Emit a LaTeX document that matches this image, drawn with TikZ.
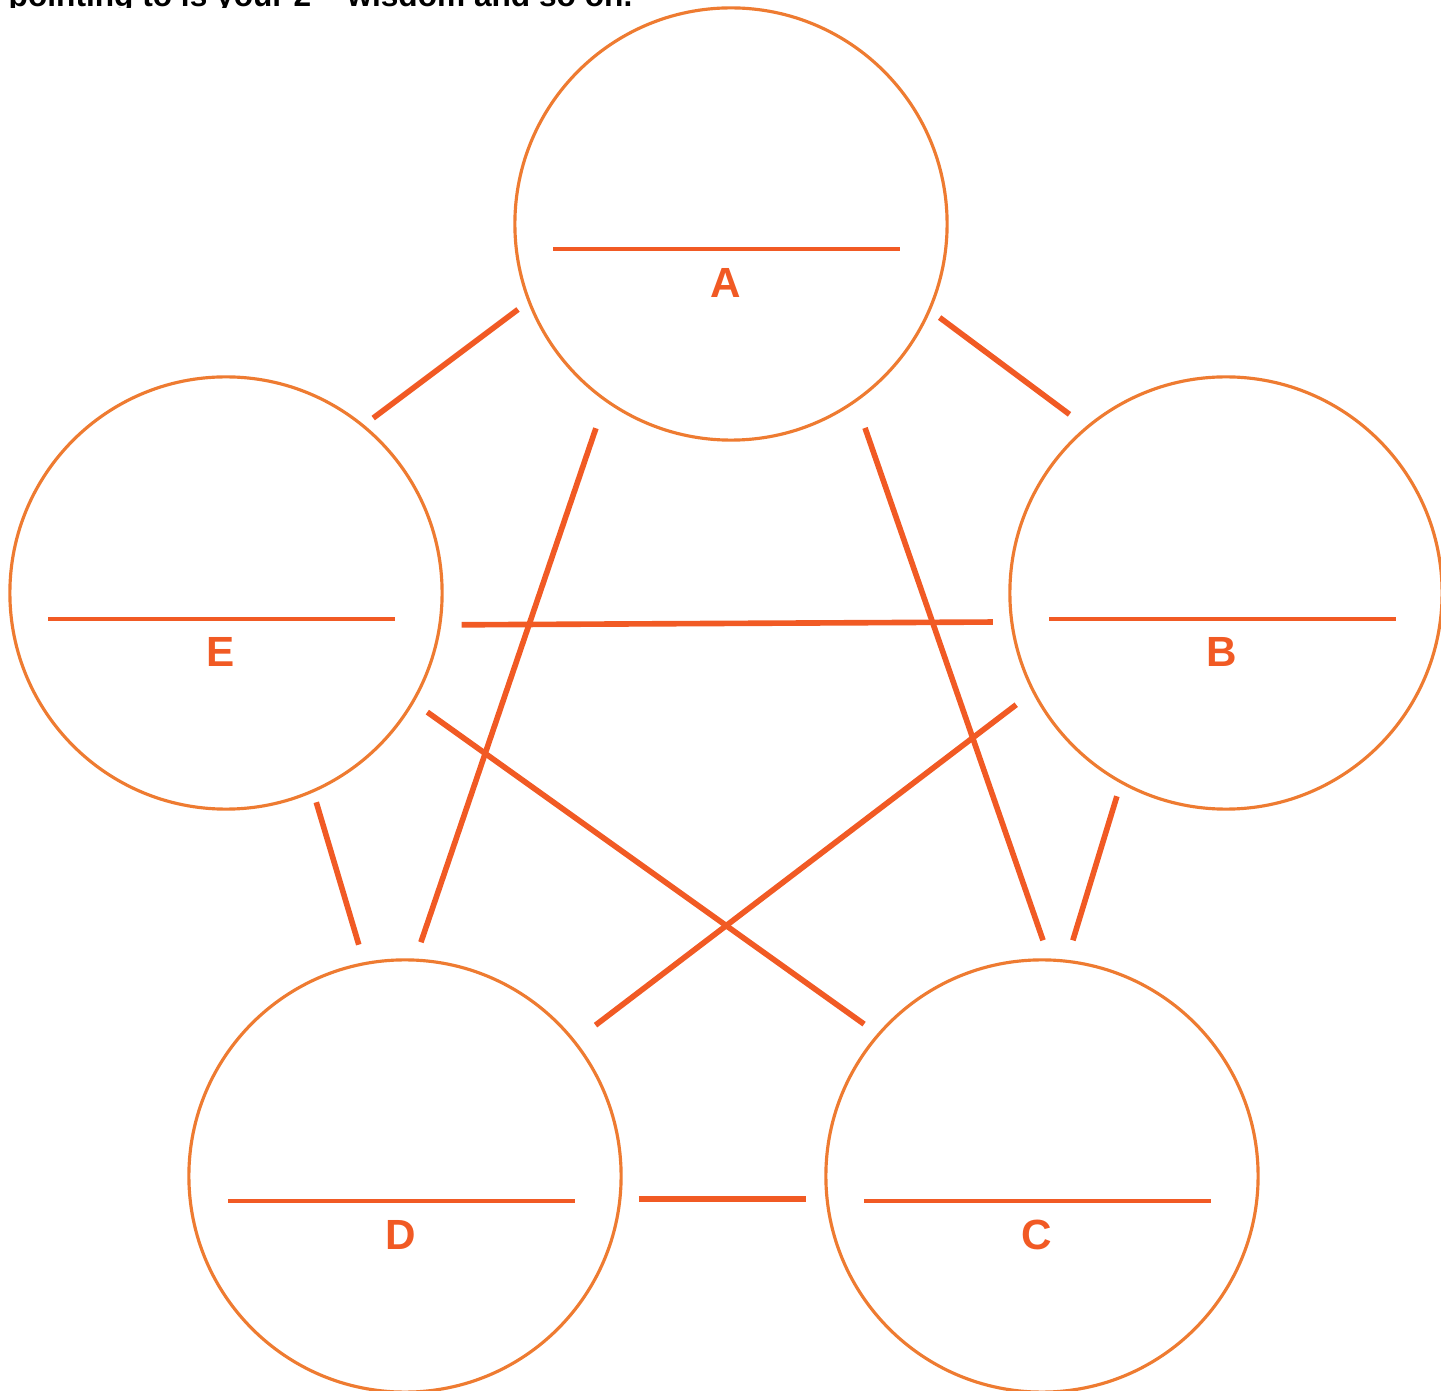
\documentclass[tikz,border=0pt]{standalone}
\usepackage{fontspec}
\setmainfont{Liberation Sans}
\usetikzlibrary{positioning,calc}
\definecolor{laranja}{HTML}{EE7B31}
\definecolor{vermelho}{HTML}{F15A24}

\begin{document}
\begin{tikzpicture}[
x=0.01cm, y=-0.01cm,
circulo/.style={
circle,
draw=laranja,
line width=0.9pt,
minimum size=4.32cm,
inner sep=0pt,
outer sep=0pt
},
barra/.style={draw=vermelho, line width=1.2pt},
rotulo/.style={
anchor=base,
text=vermelho,
font=\fontsize{12}{14}\selectfont\bfseries
},
liga/.style={draw=vermelho, line width=1.6pt}
]
\useasboundingbox (0,0) rectangle (1441,1391);

% texto cortado no topo
\begin{scope}
\clip (0,0) rectangle (1441,8);
\node[anchor=base west, inner sep=0pt, font=\fontsize{9}{11}\selectfont\bfseries] (topo) at (8,7)
{pointing to is your 2\textsuperscript{nd} wisdom and so on.};
\end{scope}

\node[circulo] (A) at (731,224) {};
\node[circulo] (B) at (1226,593) {};
\node[circulo] (C) at (1042,1176) {};
\node[circulo] (D) at (405,1176) {};
\node[circulo] (E) at (226,593) {};

\draw[barra] ([shift={(-178,25)}]A.center) -- ++(347,0);
\draw[barra] ([shift={(-177,26)}]B.center) -- ++(347,0);
\draw[barra] ([shift={(-178,25)}]C.center) -- ++(347,0);
\draw[barra] ([shift={(-177,25)}]D.center) -- ++(347,0);
\draw[barra] ([shift={(-178,26)}]E.center) -- ++(347,0);

\node[rotulo] (rA) at ([shift={(-5,74)}]A.center) {A};
\node[rotulo] (rB) at ([shift={(-4,74)}]B.center) {B};
\node[rotulo] (rC) at ([shift={(-5,74)}]C.center) {C};
\node[rotulo] (rD) at ([shift={(-4,74)}]D.center) {D};
\node[rotulo] (rE) at ([shift={(-5,74)}]E.center) {E};

% ligacoes (angulos medidos para baixo, raio 216)
\draw[liga, shorten <=0.13cm, shorten >=0.22cm] ([shift={(23.4:216)}]A.center) -- ([shift={(230:216)}]B.center);
\draw[liga, shorten <=0.14cm, shorten >=0.13cm] ([shift={(159.1:216)}]A.center) -- ([shift={(309.3:216)}]E.center);
\draw[liga, shorten <=0.30cm, shorten >=0.19cm] ([shift={(125.5:216)}]A.center) -- ([shift={(272.6:216)}]D.center);
\draw[liga, shorten <=0.29cm, shorten >=0.21cm] ([shift={(54.8:216)}]A.center) -- ([shift={(272.1:216)}]C.center);
\draw[liga, shorten <=0.22cm, shorten >=0.19cm] ([shift={(8.5:216)}]E.center) -- ([shift={(172.3:216)}]B.center);
\draw[liga, shorten <=0.18cm, shorten >=0.18cm] ([shift={(30.2:216)}]E.center) -- ([shift={(220.9:216)}]C.center);
\draw[liga, shorten <=0.22cm, shorten >=0.27cm] ([shift={(152.9:216)}]B.center) -- ([shift={(321.5:216)}]D.center);
\draw[liga, shorten <=0.12cm, shorten >=0.20cm] ([shift={(66.3:216)}]E.center) -- ([shift={(259.2:216)}]D.center);
\draw[liga, shorten <=0.15cm, shorten >=0.22cm] ([shift={(119:216)}]B.center) -- ([shift={(276.5:216)}]C.center);
\draw[liga, shorten <=0.19cm, shorten >=0.21cm] ([shift={(6.1:216)}]D.center) -- ([shift={(173.9:216)}]C.center);
\end{tikzpicture}
\end{document}
